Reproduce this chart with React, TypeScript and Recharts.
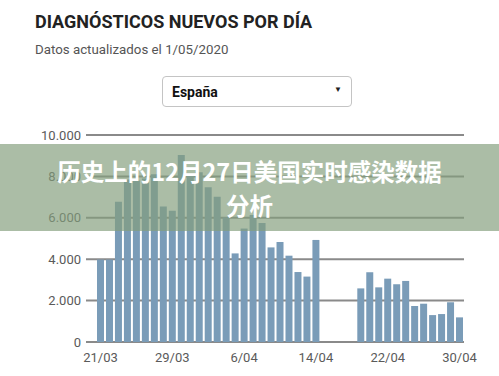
import { Bar, BarChart, CartesianGrid, XAxis, YAxis } from 'recharts';

const days = [
  '21/03', '22/03', '23/03', '24/03', '25/03', '26/03', '27/03', '28/03', '29/03', '30/03', '31/03',
  '1/04', '2/04', '3/04', '4/04', '5/04', '6/04', '7/04', '8/04', '9/04', '10/04',
  '11/04', '12/04', '13/04', '14/04', '15/04', '16/04', '17/04', '18/04', '19/04', '20/04',
  '21/04', '22/04', '23/04', '24/04', '25/04', '26/04', '27/04', '28/04', '29/04', '30/04',
];

const newCases: (number | null)[] = [
  3980, 3980, 6780, 7850, 7800, 7900, 8100, 6540, 6340, 9030, 8100,
  8200, 7470, 7020, 6020, 4280, 5480, 6130, 5750, 4570, 4830,
  4170, 3380, 3160, 4930, null, null, null, null, 2590, 3370,
  2640, 3060, 2790, 2950, 1740, 1850, 1300, 1350, 1920, 1190,
];

const yTicks = [0, 2000, 4000, 6000, 8000, 10000];

const chartData = days.map((day, i) => ({ day, value: newCases[i] }));

const fmt = (v: number) => String(v).replace(/\B(?=(\d{3})+(?!\d))/g, '.');

const tickStyle = { fontSize: 13, fill: '#5a5a5a', fontFamily: 'Roboto, sans-serif' };

export default function App() {
  return (
    <div style={{ position: 'absolute', left: 0, top: 0, width: 499, height: 376, background: '#fff', overflow: 'hidden', fontFamily: 'Roboto, sans-serif' }}>
      <div style={{ position: 'absolute', left: 35, top: 10, fontSize: 18, fontWeight: 700, color: '#222', lineHeight: '24px' }}>
        DIAGNÓSTICOS NUEVOS POR DÍA
      </div>
      <div style={{ position: 'absolute', left: 35, top: 41, fontSize: 13.3, color: '#555', lineHeight: '18px' }}>
        Datos actualizados el 1/05/2020
      </div>
      <div
        style={{
          position: 'absolute', left: 162, top: 76, width: 190, height: 31, boxSizing: 'border-box',
          border: '1px solid #c4c4c4', borderRadius: 4, background: '#fff',
        }}
      >
        <span style={{ position: 'absolute', left: 9, top: 6, fontSize: 14, fontWeight: 700, color: '#111', lineHeight: '18px' }}>España</span>
        <span style={{ position: 'absolute', right: 9, top: 8, fontSize: 8, color: '#222', lineHeight: '10px' }}>▼</span>
      </div>

      <BarChart
        width={499}
        height={256}
        data={chartData}
        margin={{ top: 15, right: 35, bottom: 0, left: 0 }}
        style={{ position: 'absolute', left: 0, top: 120 }}
      >
        <CartesianGrid vertical={false} stroke="#8a8a8a" strokeWidth={2} />
        <XAxis
          dataKey="day"
          interval={7}
          axisLine={false}
          tickLine={false}
          tickSize={0}
          tickMargin={11}
          height={34}
          padding={{ left: 10, right: 0 }}
          tick={tickStyle}
        />
        <YAxis
          domain={[0, 10000]}
          ticks={yTicks}
          tickFormatter={fmt}
          axisLine={false}
          tickLine={false}
          tickSize={0}
          tickMargin={5}
          width={86}
          tick={tickStyle}
        />
        <Bar dataKey="value" fill="#7a9cb8" barSize={7} isAnimationActive={false} />
      </BarChart>

      <div
        style={{
          position: 'absolute', left: 0, top: 144, width: 499, height: 87,
          background: 'rgba(131,158,124,0.68)', display: 'flex', flexDirection: 'column',
          alignItems: 'center', justifyContent: 'center',
          color: '#fff', fontFamily: '"Noto Sans CJK SC", sans-serif', fontWeight: 700,
          fontSize: 23.5, lineHeight: '34px', textAlign: 'center',
        }}
      >
        <div>历史上的12月27日美国实时感染数据</div>
        <div>分析</div>
      </div>
    </div>
  );
}
